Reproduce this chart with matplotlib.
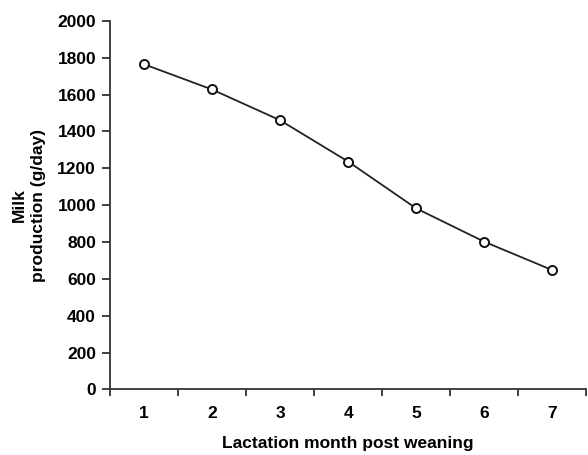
import matplotlib
matplotlib.use("Agg")
import matplotlib.pyplot as plt
from matplotlib.ticker import FixedLocator

months = [1, 2, 3, 4, 5, 6, 7]
milk = [1765, 1628, 1461, 1237, 983, 802, 648]
yticks = [0, 200, 400, 600, 800, 1000, 1200, 1400, 1600, 1800, 2000]

plt.rcParams['font.family'] = ['Liberation Sans', 'DejaVu Sans']
plt.rcParams['font.weight'] = 'bold'

fig = plt.figure(figsize=(5.88, 4.55), dpi=100)
ax = fig.add_axes([0.187, 0.144, 0.81, 0.81])

ax.plot(months, milk, color='#222222', linewidth=1.3, marker='o',
        markersize=6.5, markerfacecolor='white', markeredgecolor='#111111',
        markeredgewidth=1.4, zorder=3, clip_on=False)

ax.set_xlim(0.5, 7.5)
ax.set_ylim(0, 2000)
ax.set_yticks(yticks)
ax.set_xticks(months)
ax.xaxis.set_minor_locator(FixedLocator([m - 0.5 for m in months] + [7.5]))
ax.tick_params(axis='x', which='major', length=0, pad=12, labelsize=12.5)
ax.tick_params(axis='x', which='minor', length=5, width=1.3, direction='out', color='#333333')
ax.tick_params(axis='y', length=6, width=1.3, color='#333333', labelsize=12.5, pad=4)

for lab in ax.get_xticklabels() + ax.get_yticklabels():
    lab.set_fontweight('bold')

for s in ['top', 'right']:
    ax.spines[s].set_visible(False)
for s in ['left', 'bottom']:
    ax.spines[s].set_linewidth(1.3)
    ax.spines[s].set_color('#333333')

ax.set_xlabel('Lactation month post weaning', fontsize=12.5, fontweight='bold', labelpad=11)
ax.set_ylabel('Milk\nproduction (g/day)', fontsize=12.5, fontweight='bold', labelpad=8,
              linespacing=1.35)

fig.savefig('out.png', dpi=100)
